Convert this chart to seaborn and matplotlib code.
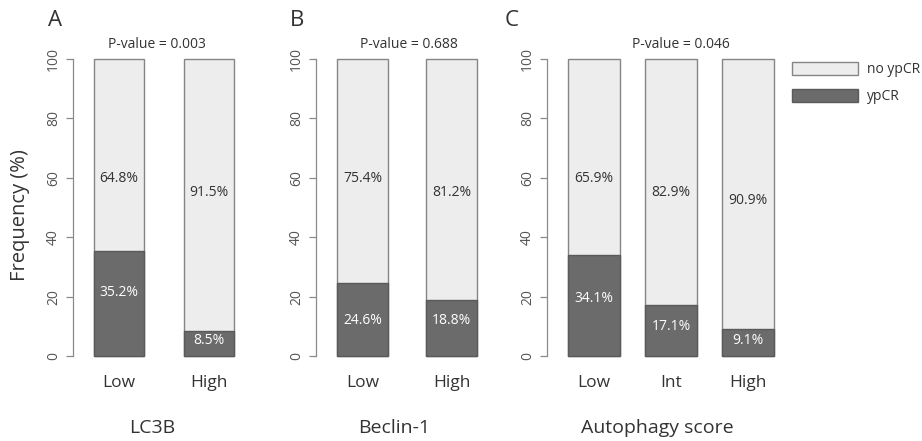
import matplotlib
matplotlib.use("Agg")
import matplotlib.pyplot as plt
import seaborn as sns
from matplotlib.patches import Patch

# ---------------- data ----------------
lc3b_groups = ["Low", "High"]
lc3b_ypcr = [35.2, 8.5]
lc3b_no_ypcr = [64.8, 91.5]

beclin_groups = ["Low", "High"]
beclin_ypcr = [24.6, 18.8]
beclin_no_ypcr = [75.4, 81.2]

auto_groups = ["Low", "Int", "High"]
auto_ypcr = [34.1, 17.1, 9.1]
auto_no_ypcr = [65.9, 82.9, 90.9]

panel_letters = ["A", "B", "C"]
p_values = ["0.003", "0.688", "0.046"]
x_titles = ["LC3B", "Beclin-1", "Autophagy score"]
legend_labels = ["no ypCR", "ypCR"]
y_ticks = [0, 20, 40, 60, 80, 100]

# annotation heights (data units) for the percentage labels
lc3b_lab_light = [59.6, 55.2]
lc3b_lab_dark = [21.5, 5.1]
beclin_lab_light = [59.6, 55.2]
beclin_lab_dark = [12.1, 12.1]
auto_lab_light = [59.6, 55.2, 52.2]
auto_lab_dark = [19.2, 9.8, 5.1]

# ---------------- style ----------------
sns.set_theme(style="white")
FONT = ["Open Sans", "DejaVu Sans"]
plt.rcParams["font.family"] = FONT
LIGHT = "#ededed"
DARK = "#6b6b6b"
EDGE = "#858585"
TXT = "#333333"
AXC = "#8a8a8a"

W, H = 922, 441
fig = plt.figure(figsize=(W / 100, H / 100), dpi=100)
fig.patch.set_facecolor("white")


def fx(x):
    return x / W


def fy(y):
    return 1 - y / H


Y0, Y100 = 356, 59  # pixel rows of 0 and 100

panels = [
    # groups, ypcr, noypcr, light-lab, dark-lab, axis_x, first_center, spacing, bar_px, ax_w
    (lc3b_groups, lc3b_ypcr, lc3b_no_ypcr, lc3b_lab_light, lc3b_lab_dark, 73, 119, 89.5, 50, 170),
    (beclin_groups, beclin_ypcr, beclin_no_ypcr, beclin_lab_light, beclin_lab_dark, 316, 362.5, 89, 51, 170),
    (auto_groups, auto_ypcr, auto_no_ypcr, auto_lab_light, auto_lab_dark, 547, 594, 77, 52, 240),
]

for groups, yp, nyp, lab_l, lab_d, ax_x, c0, sp, bpx, aw in panels:
    ax = fig.add_axes([fx(ax_x), fy(Y0), aw / W, (Y0 - Y100) / H])
    totals = [a + b for a, b in zip(yp, nyp)]
    width = bpx / sp
    sns.barplot(x=groups, y=totals, order=groups, color=LIGHT, saturation=1,
                width=width, edgecolor=EDGE, linewidth=1, errorbar=None, ax=ax)
    sns.barplot(x=groups, y=yp, order=groups, color=DARK, saturation=1,
                width=width, edgecolor="#5a5a5a", linewidth=1, errorbar=None, ax=ax)
    for p in ax.patches:
        p.set_clip_on(False)
    left = -(c0 - ax_x) / sp
    ax.set_xlim(left, left + aw / sp)
    ax.set_ylim(0, 100)
    ax.set_yticks(y_ticks)
    ax.set_yticklabels([str(t) for t in y_ticks], rotation=90, va="center")
    for s in ["top", "right", "bottom"]:
        ax.spines[s].set_visible(False)
    ax.spines["left"].set_color(AXC)
    ax.spines["left"].set_linewidth(0.9)
    ax.spines["left"].set_bounds(0, 100)
    ax.tick_params(axis="y", left=True, length=5, width=0.9, color=AXC,
                   labelcolor="#555555", labelsize=10, pad=3.6)
    ax.tick_params(axis="x", bottom=False, length=0, pad=14, labelsize=12.5,
                   labelcolor=TXT)
    ax.set_xlabel("")
    ax.set_ylabel("")
    ax.set_facecolor("none")
    for i, (a, b) in enumerate(zip(yp, nyp)):
        ax.text(i, lab_l[i], f"{b:.1f}%", ha="center", va="center",
                fontsize=10, color=TXT)
        ax.text(i, lab_d[i], f"{a:.1f}%", ha="center", va="center",
                fontsize=10, color="white")

# panel letters
for letter, x in zip(panel_letters, [55, 297, 512]):
    fig.text(fx(x), fy(20), letter, ha="center", va="center", fontsize=16, color=TXT)

# p-values
for pv, x in zip(p_values, [157, 409, 681]):
    fig.text(fx(x), fy(44), f"P-value = {pv}", ha="center", va="center",
             fontsize=10, color=TXT)

# x titles
for t, x in zip(x_titles, [152, 394, 657]):
    fig.text(fx(x), fy(428), t, ha="center", va="center", fontsize=14, color=TXT)

# y label
fig.text(fx(20), fy(215), "Frequency (%)", rotation=90, ha="center", va="center",
         fontsize=14.5, color=TXT)

# legend
handles = [Patch(facecolor=LIGHT, edgecolor=EDGE), Patch(facecolor=DARK, edgecolor="#5a5a5a")]
leg = fig.legend(handles, legend_labels, loc="upper left",
                 bbox_to_anchor=(fx(792), fy(62)), frameon=False, borderpad=0,
                 borderaxespad=0, handlelength=4.75, handleheight=1.08,
                 handletextpad=0.65, labelspacing=0.83, fontsize=10)
for t in leg.get_texts():
    t.set_color(TXT)

fig.savefig("out.png", dpi=100, facecolor="white")
